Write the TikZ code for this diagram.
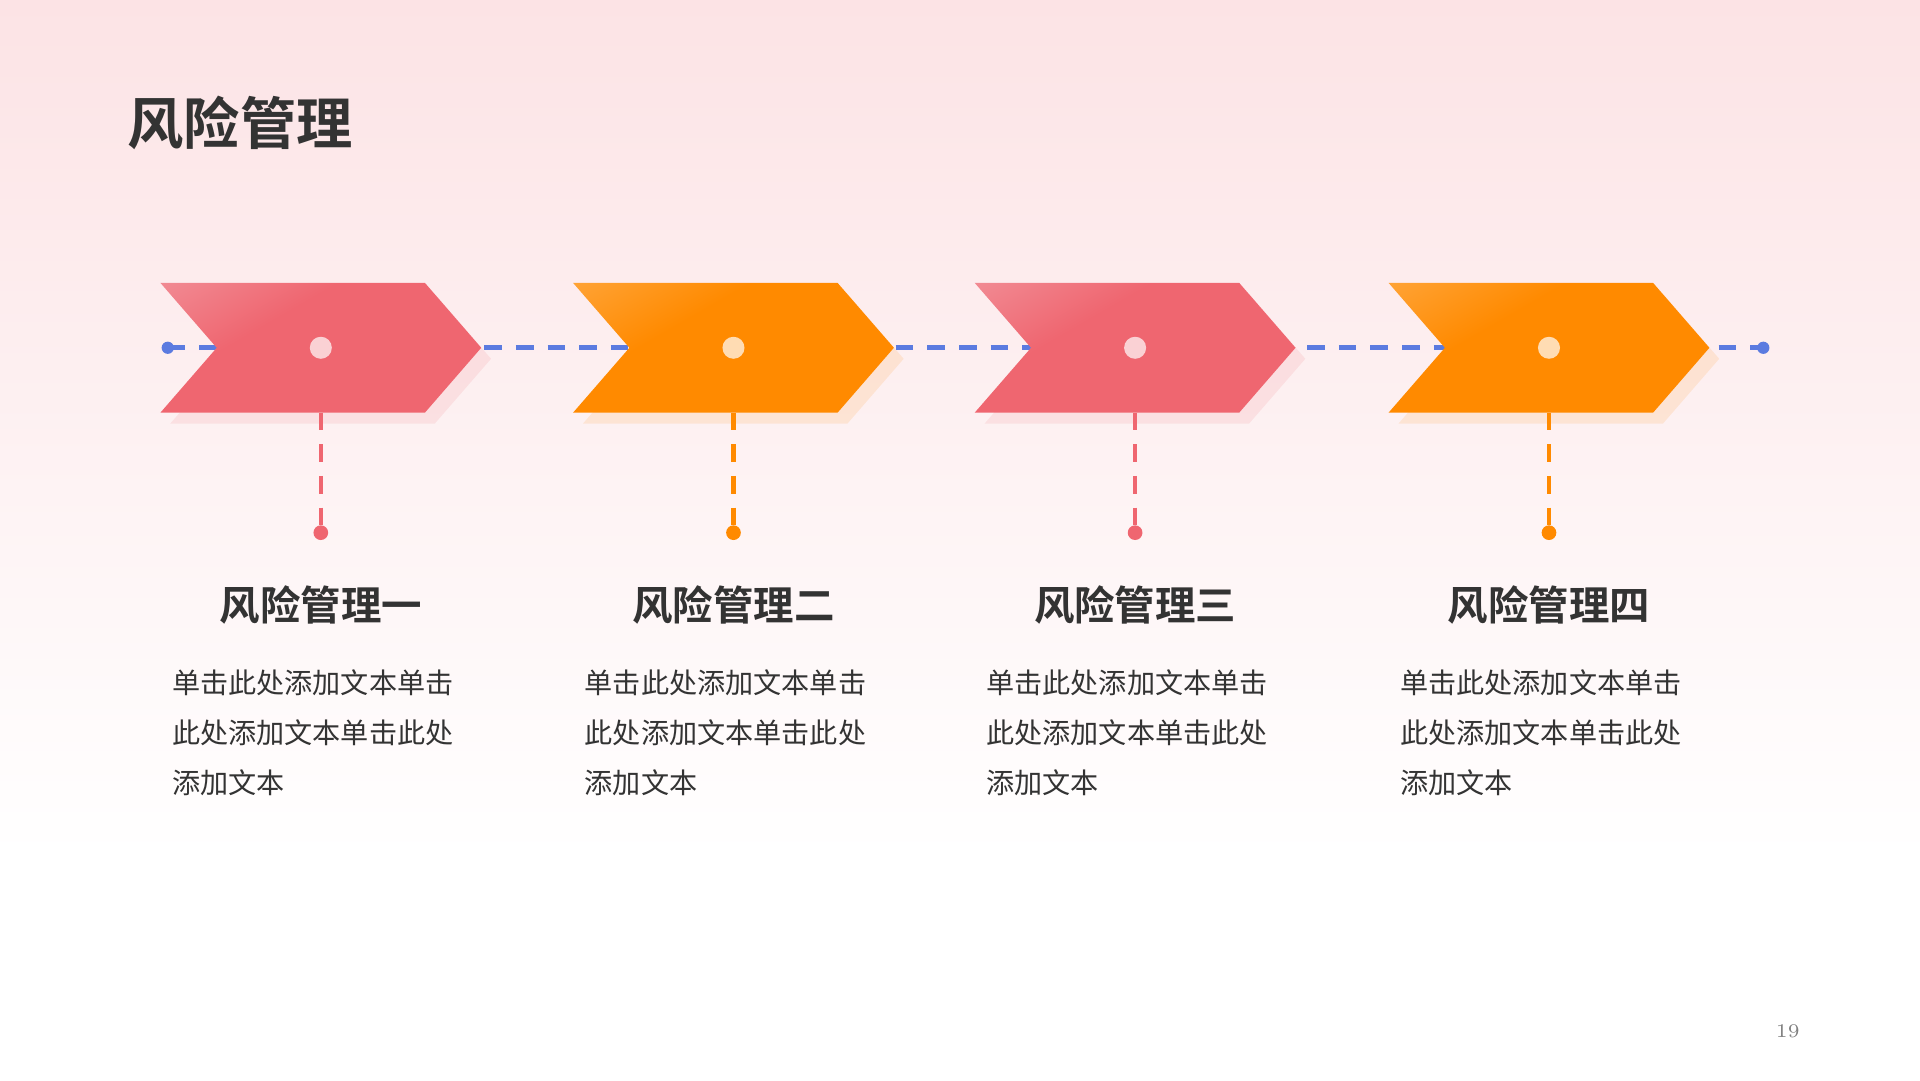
\documentclass[tikz,border=0pt]{standalone}
\usepackage{fontspec}
\newfontfamily\cjk{Noto Sans CJK SC}
\newfontfamily\cjkb{Noto Sans CJK SC Bold}
\usetikzlibrary{shadings}
\definecolor{pinkM}{HTML}{EF6670}
\definecolor{pinkL}{HTML}{F3A3AB}
\definecolor{orM}{HTML}{FF8A00}
\definecolor{orL}{HTML}{FFB45A}
\definecolor{lineblue}{HTML}{5B7BE0}
\definecolor{bgtop}{HTML}{FCE3E5}
\definecolor{txt}{HTML}{333333}
\pgfdeclarehorizontalshading{pinkgrad}{100bp}{color(0bp)=(pinkL); color(38bp)=(pinkM); color(100bp)=(pinkM)}
\pgfdeclarehorizontalshading{orgrad}{100bp}{color(0bp)=(orL); color(38bp)=(orM); color(100bp)=(orM)}
\tikzset{
 conn/.style={dashed, line width=1.3pt, dash pattern=on 5pt off 4pt},
 ttl/.style={font=\cjkb\fontsize{16}{18}\selectfont, text=txt},
 sub/.style={font=\cjkb\fontsize{11.5}{13}\selectfont, text=txt},
 body/.style={font=\cjk\fontsize{8}{14.3}\selectfont, text=txt, align=left, anchor=north west, inner sep=0pt},
}
\begin{document}
\begin{tikzpicture}[x=0.01224cm,y=-0.01224cm]
\shade[top color=bgtop, bottom color=white] (0,0) rectangle (1568,700);
\fill[white] (0,699) rectangle (1568,882);
\useasboundingbox (0,0) rectangle (1568,882);
\node[ttl, anchor=west] (title) at (94,100) {风险管理};
\coordinate (L) at (137,284);
\coordinate (R) at (1440,284);
\draw[conn, lineblue] (L) -- (R);
\fill[lineblue] (L) circle (5);
\fill[lineblue] (R) circle (5);
\foreach \x/\g/\c/\t [count=\i] in {131/pinkgrad/pinkM/一,468/orgrad/orM/二,796/pinkgrad/pinkM/三,1134/orgrad/orM/四}{
  \fill[\c, opacity=0.12] (\x+8,240) -- (\x+224,240) -- (\x+270,293) -- (\x+224,346) -- (\x+8,346) -- (\x+54,293) -- cycle;
  \shade[shading=\g, shading angle=-60] (\x,231) -- (\x+216,231) -- (\x+262,284) -- (\x+216,337) -- (\x,337) -- (\x+46,284) -- cycle;
  \coordinate (c\i) at (\x+131,284);
  \fill[white, opacity=0.7] (c\i) circle (9);
  \coordinate (b\i) at (\x+131,337);
  \coordinate (d\i) at (\x+131,435);
  \draw[conn, \c] (b\i) -- (d\i);
  \fill[\c] (d\i) circle (6);
  \node[sub] (s\i) at (\x+131,494) {风险管理\t};
  \node[body] (t\i) at (\x+9,546) {单击此处添加文本单击\\此处添加文本单击此处\\添加文本};
}
\node[font=\fontsize{5.5}{6}\selectfont, text=gray] (pn) at (1460,842) {19};
\end{tikzpicture}
\end{document}
